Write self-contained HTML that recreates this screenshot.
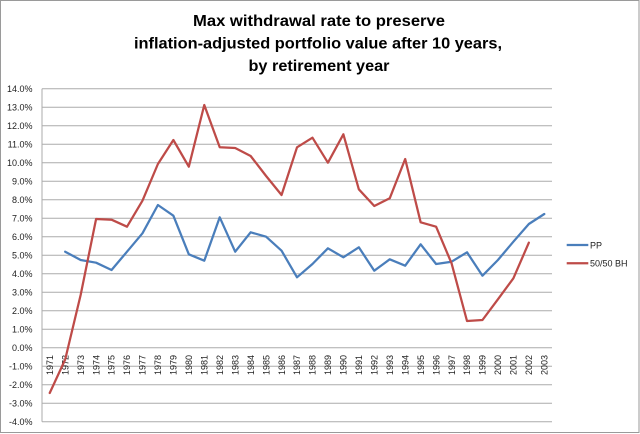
<!DOCTYPE html>
<html><head><meta charset="utf-8"><style>
html,body{margin:0;padding:0;background:#fff;}
svg{display:block;}
text{font-family:"Liberation Sans",Arial,sans-serif;}
</style></head><body>
<svg width="640" height="434" viewBox="0 0 640 434" xmlns="http://www.w3.org/2000/svg">
<rect x="0" y="0" width="640" height="434" fill="#fff"/>
<rect x="0.5" y="0.5" width="638.5" height="432" fill="none" stroke="#9a9a9a" stroke-width="1"/>
<g font-weight="bold" font-size="15.5" fill="#000" text-anchor="middle">
<text x="319" y="26" textLength="252" lengthAdjust="spacingAndGlyphs">Max withdrawal rate to preserve</text>
<text x="318" y="48.5" textLength="368" lengthAdjust="spacingAndGlyphs">inflation-adjusted portfolio value after 10 years,</text>
<text x="319" y="71" textLength="141" lengthAdjust="spacingAndGlyphs">by retirement year</text>
</g>
<g stroke="#ababab" stroke-width="1">
<line x1="42" y1="88.7" x2="552" y2="88.7"/>
<line x1="42" y1="107.2" x2="552" y2="107.2"/>
<line x1="42" y1="125.7" x2="552" y2="125.7"/>
<line x1="42" y1="144.2" x2="552" y2="144.2"/>
<line x1="42" y1="162.7" x2="552" y2="162.7"/>
<line x1="42" y1="181.2" x2="552" y2="181.2"/>
<line x1="42" y1="199.7" x2="552" y2="199.7"/>
<line x1="42" y1="218.2" x2="552" y2="218.2"/>
<line x1="42" y1="236.7" x2="552" y2="236.7"/>
<line x1="42" y1="255.2" x2="552" y2="255.2"/>
<line x1="42" y1="273.7" x2="552" y2="273.7"/>
<line x1="42" y1="292.2" x2="552" y2="292.2"/>
<line x1="42" y1="310.7" x2="552" y2="310.7"/>
<line x1="42" y1="329.2" x2="552" y2="329.2"/>
<line x1="42" y1="347.7" x2="552" y2="347.7"/>
<line x1="42" y1="366.2" x2="552" y2="366.2"/>
<line x1="42" y1="384.7" x2="552" y2="384.7"/>
<line x1="42" y1="403.2" x2="552" y2="403.2"/>
<line x1="42" y1="421.7" x2="552" y2="421.7"/>
<line x1="42" y1="88.7" x2="42" y2="421.7"/>
</g>
<g font-size="9" fill="#222" text-anchor="end">
<text x="32.5" y="91.9">14.0%</text>
<text x="32.5" y="110.4">13.0%</text>
<text x="32.5" y="128.9">12.0%</text>
<text x="32.5" y="147.4">11.0%</text>
<text x="32.5" y="165.9">10.0%</text>
<text x="32.5" y="184.4">9.0%</text>
<text x="32.5" y="202.9">8.0%</text>
<text x="32.5" y="221.4">7.0%</text>
<text x="32.5" y="239.9">6.0%</text>
<text x="32.5" y="258.4">5.0%</text>
<text x="32.5" y="276.9">4.0%</text>
<text x="32.5" y="295.4">3.0%</text>
<text x="32.5" y="313.9">2.0%</text>
<text x="32.5" y="332.4">1.0%</text>
<text x="32.5" y="350.9">0.0%</text>
<text x="32.5" y="369.4">-1.0%</text>
<text x="32.5" y="387.9">-2.0%</text>
<text x="32.5" y="406.4">-3.0%</text>
<text x="32.5" y="424.9">-4.0%</text>
</g>
<g font-size="9" fill="#222" text-anchor="end">
<text transform="translate(52.9,355) rotate(-90)">1971</text>
<text transform="translate(68.4,355) rotate(-90)">1972</text>
<text transform="translate(83.8,355) rotate(-90)">1973</text>
<text transform="translate(99.3,355) rotate(-90)">1974</text>
<text transform="translate(114.7,355) rotate(-90)">1975</text>
<text transform="translate(130.2,355) rotate(-90)">1976</text>
<text transform="translate(145.7,355) rotate(-90)">1977</text>
<text transform="translate(161.1,355) rotate(-90)">1978</text>
<text transform="translate(176.6,355) rotate(-90)">1979</text>
<text transform="translate(192.0,355) rotate(-90)">1980</text>
<text transform="translate(207.5,355) rotate(-90)">1981</text>
<text transform="translate(222.9,355) rotate(-90)">1982</text>
<text transform="translate(238.4,355) rotate(-90)">1983</text>
<text transform="translate(253.8,355) rotate(-90)">1984</text>
<text transform="translate(269.3,355) rotate(-90)">1985</text>
<text transform="translate(284.8,355) rotate(-90)">1986</text>
<text transform="translate(300.2,355) rotate(-90)">1987</text>
<text transform="translate(315.7,355) rotate(-90)">1988</text>
<text transform="translate(331.1,355) rotate(-90)">1989</text>
<text transform="translate(346.6,355) rotate(-90)">1990</text>
<text transform="translate(362.0,355) rotate(-90)">1991</text>
<text transform="translate(377.5,355) rotate(-90)">1992</text>
<text transform="translate(392.9,355) rotate(-90)">1993</text>
<text transform="translate(408.4,355) rotate(-90)">1994</text>
<text transform="translate(423.9,355) rotate(-90)">1995</text>
<text transform="translate(439.3,355) rotate(-90)">1996</text>
<text transform="translate(454.8,355) rotate(-90)">1997</text>
<text transform="translate(470.2,355) rotate(-90)">1998</text>
<text transform="translate(485.7,355) rotate(-90)">1999</text>
<text transform="translate(501.1,355) rotate(-90)">2000</text>
<text transform="translate(516.6,355) rotate(-90)">2001</text>
<text transform="translate(532.0,355) rotate(-90)">2002</text>
<text transform="translate(547.5,355) rotate(-90)">2003</text>
</g>
<polyline fill="none" stroke="#4a7ebb" stroke-width="2.25" stroke-linejoin="round" stroke-linecap="round"
points="65.18,251.7 80.64,260 96.09,262.7 111.55,270 127,251.7 142.46,233.3 157.91,205 173.37,215.7 188.82,254.3 204.28,260.7 219.73,217.3 235.19,251.7 250.64,232.3 266.1,236.7 281.55,250.7 297.01,277.3 312.46,264 327.92,248.3 343.37,257.3 358.83,247.3 374.28,270.7 389.74,259.3 405.19,265.7 420.65,244.3 436.1,264 451.56,261.7 467.01,252.3 482.47,275.7 497.92,260 513.38,241.7 528.83,224 544.29,214"/>
<polyline fill="none" stroke="#be4b48" stroke-width="2.25" stroke-linejoin="round" stroke-linecap="round"
points="49.73,393 65.18,359.5 80.64,295 96.09,219 111.55,219.7 127,226.7 142.46,200.7 157.91,164 173.37,140 188.82,166.7 204.28,105 219.73,147.3 235.19,148 250.64,156 266.1,176 281.55,195 297.01,147.3 312.46,137.7 327.92,162.7 343.37,134.3 358.83,189.3 374.28,206 389.74,198.3 405.19,159 420.65,222.3 436.1,226.7 451.56,263.3 467.01,321 482.47,320 497.92,299.3 513.38,278.3 528.83,242.7"/>
<line x1="566.7" y1="245" x2="588.3" y2="245" stroke="#4a7ebb" stroke-width="2.25"/>
<line x1="566.7" y1="263.3" x2="588.3" y2="263.3" stroke="#be4b48" stroke-width="2.25"/>
<g font-size="9" fill="#222">
<text x="590" y="248.3">PP</text>
<text x="590" y="266.6">50/50 BH</text>
</g>
</svg>
</body></html>
